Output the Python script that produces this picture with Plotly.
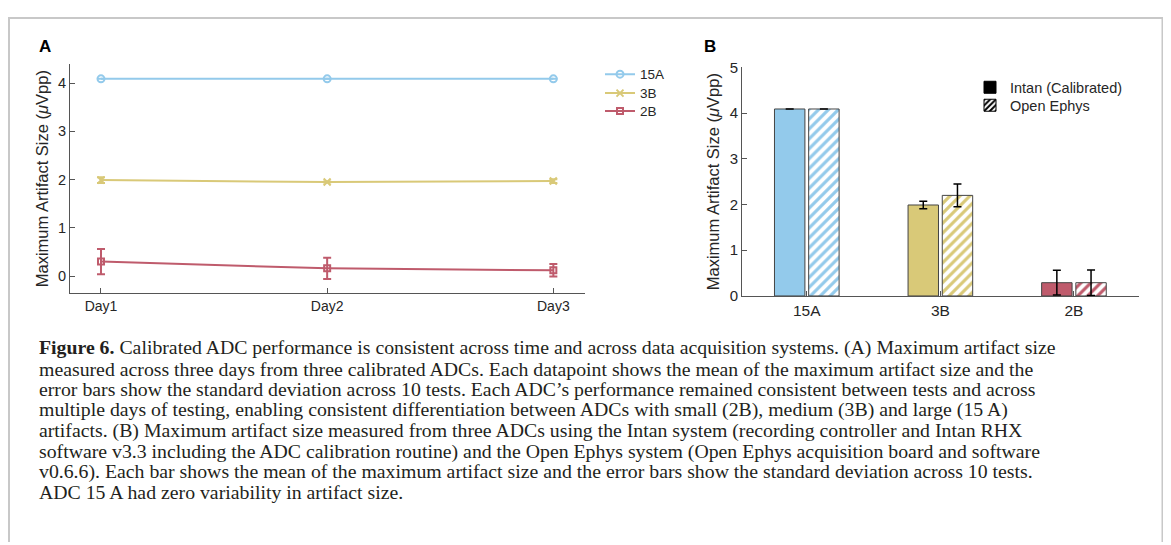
import plotly.graph_objects as go

# page is 1171x545 in the picture; the figure sits inside the html body margins
PAGE_W = 1171
OFF_X, OFF_Y = 8, 16
K = 0.97            # vertical scale of the photographed page
W, H = PAGE_W - 2 * OFF_X, 534

# ---------------- data ----------------
days = ["Day1", "Day2", "Day3"]
day_pos = [1, 2, 3]
a_15A = [4.09, 4.09, 4.09]
a_15A_sd = [0.0, 0.0, 0.0]
a_3B = [1.99, 1.95, 1.97]
a_3B_sd = [0.06, 0.01, 0.04]
a_2B = [0.30, 0.16, 0.12]
a_2B_sd = [0.26, 0.22, 0.13]

b_categories = ["15A", "3B", "2B"]
b_intan = [4.09, 1.99, 0.29]
b_intan_sd = [0.0, 0.08, 0.27]
b_oe = [4.09, 2.20, 0.29]
b_oe_sd = [0.0, 0.25, 0.28]

caption_lines = [
    "<b>Figure 6.</b> Calibrated ADC performance is consistent across time and across data acquisition systems. (A) Maximum artifact size",
    "measured across three days from three calibrated ADCs. Each datapoint shows the mean of the maximum artifact size and the",
    "error bars show the standard deviation across 10 tests. Each ADC\u2019s performance remained consistent between tests and across",
    "multiple days of testing, enabling consistent differentiation between ADCs with small (2B), medium (3B) and large (15 A)",
    "artifacts. (B) Maximum artifact size measured from three ADCs using the Intan system (recording controller and Intan RHX",
    "software v3.3 including the ADC calibration routine) and the Open Ephys system (Open Ephys acquisition board and software",
    "v0.6.6). Each bar shows the mean of the maximum artifact size and the error bars show the standard deviation across 10 tests.",
    "ADC 15 A had zero variability in artifact size.",
]

# ---------------- style ----------------
C_BLUE = "#93CAEB"
C_YEL = "#D9C978"
C_RED = "#BF5B6C"
bar_colors = [C_BLUE, C_YEL, C_RED]
SANS = "Arial, Liberation Sans, sans-serif"
SERIF = "Liberation Serif, Times New Roman, serif"
TXT = "#262626"
AX = "#555555"

def px_x(x):
    return (x - OFF_X) / W

def px_y(y):
    return (H - (y / K - OFF_Y)) / H

fig = go.Figure()

series = [
    ("15A", a_15A, a_15A_sd, C_BLUE, "circle-open", 7, "legend"),
    ("3B", a_3B, a_3B_sd, C_YEL, "x-thin-open", 7, "legend3"),
    ("2B", a_2B, a_2B_sd, C_RED, "square-open", 6, "legend4"),
]
for name, vals, sd, col, sym, ms, leg in series:
    fig.add_trace(go.Scatter(
        x=day_pos, y=vals, name=name, mode="lines+markers",
        line=dict(color=col, width=2),
        marker=dict(symbol=sym, size=ms, color=col, line=dict(color=col, width=2)),
        error_y=dict(type="data", array=sd, visible=True, color=col, thickness=2, width=4),
        xaxis="x", yaxis="y", legend=leg,
    ))

# Panel B bars
fig.add_trace(go.Bar(
    x=b_categories, y=b_intan, name="Intan (Calibrated)", showlegend=False,
    marker=dict(color=bar_colors, line=dict(color="#444444", width=1)),
    error_y=dict(type="data", array=b_intan_sd, visible=True, color="black", thickness=1.5, width=4),
    offsetgroup="intan", xaxis="x2", yaxis="y2",
))
fig.add_trace(go.Bar(
    x=b_categories, y=b_oe, name="Open Ephys", showlegend=False,
    marker=dict(color=bar_colors, line=dict(color="#444444", width=1),
                pattern=dict(shape="/", fgcolor="white", bgcolor=bar_colors,
                             fillmode="replace", size=7, solidity=0.45)),
    error_y=dict(type="data", array=b_oe_sd, visible=True, color="black", thickness=1.5, width=4),
    offsetgroup="oe", xaxis="x2", yaxis="y2",
))
# legend entries for panel B
fig.add_trace(go.Bar(
    x=[None], y=[None], name="Intan (Calibrated)",
    marker=dict(color="black", line=dict(color="black", width=1)),
    offsetgroup="intan", xaxis="x2", yaxis="y2", legend="legend2",
))
fig.add_trace(go.Bar(
    x=[None], y=[None], name="Open Ephys",
    marker=dict(color="white", line=dict(color="black", width=1),
                pattern=dict(shape="/", fgcolor="black", bgcolor="white",
                             fillmode="replace", size=5, solidity=0.5)),
    offsetgroup="oe", xaxis="x2", yaxis="y2", legend="legend5",
))

def axis_style(fs):
    return dict(showline=True, linecolor=AX, linewidth=1, ticks="inside",
                tickcolor=AX, ticklen=5, tickfont=dict(family=SANS, size=fs, color=TXT),
                showgrid=False, zeroline=False, mirror=False)

def leg(xp, yp, size):
    return dict(x=px_x(xp), y=px_y(yp), xanchor="left", yanchor="middle",
                font=dict(family=SANS, size=size, color=TXT),
                bgcolor="rgba(0,0,0,0)", tracegroupgap=0, itemwidth=30)

ytitle = "Maximum Artifact Size (<i>\u03bc</i>Vpp)"

fig.update_layout(
    width=W, height=H,
    margin=dict(l=0, r=0, t=0, b=0),
    paper_bgcolor="white", plot_bgcolor="white",
    barmode="group", bargap=0.488, bargroupgap=0.11,
    xaxis=dict(domain=[px_x(70), px_x(585)], range=[0.863, 3.14],
               tickvals=day_pos, ticktext=days, anchor="y", **axis_style(14)),
    yaxis=dict(domain=[px_y(292), px_y(63)], range=[-0.35, 4.39],
               tickvals=[0, 1, 2, 3, 4], anchor="x",
               title=dict(text=ytitle, font=dict(family=SANS, size=16.5, color=TXT), standoff=5),
               **axis_style(14.5)),
    xaxis2=dict(domain=[px_x(742), px_x(1139)], range=[-0.485, 2.487],
                type="category", anchor="y2", **axis_style(15.5)),
    yaxis2=dict(domain=[px_y(295), px_y(66)], range=[0, 5],
                tickvals=[0, 1, 2, 3, 4, 5], anchor="x2",
                title=dict(text=ytitle, font=dict(family=SANS, size=16.5, color=TXT), standoff=5),
                **axis_style(15)),
    legend=leg(600, 73, 13.5),
    legend3=leg(600, 92, 13.5),
    legend4=leg(600, 110, 13.5),
    legend2=leg(970, 86, 14.5),
    legend5=leg(970, 104, 14.5),
    showlegend=True,
)

# border (top edge kept just inside the figure)
fig.add_shape(type="rect", xref="paper", yref="paper",
              x0=px_x(9), x1=px_x(1162.5), y0=-0.08, y1=(H - 1.0) / H,
              line=dict(color="#C8C8C8", width=2), fillcolor="rgba(0,0,0,0)", layer="below")

# panel labels
for lab, lx in (("A", 45), ("B", 710)):
    fig.add_annotation(text="<b>%s</b>" % lab, x=px_x(lx), y=px_y(45),
                       xref="paper", yref="paper", xanchor="center", yanchor="middle",
                       showarrow=False, font=dict(family=SANS, size=17, color="black"))

# caption
cap_y0 = 347
cap_dy = 20.7
for i, line in enumerate(caption_lines):
    fig.add_annotation(text=line, x=px_x(37), y=px_y(cap_y0 + i * cap_dy),
                       xref="paper", yref="paper", xanchor="left", yanchor="middle",
                       showarrow=False, align="left",
                       font=dict(family=SERIF, size=19.8, color="#231F20"))

fig.write_html("out.html")
